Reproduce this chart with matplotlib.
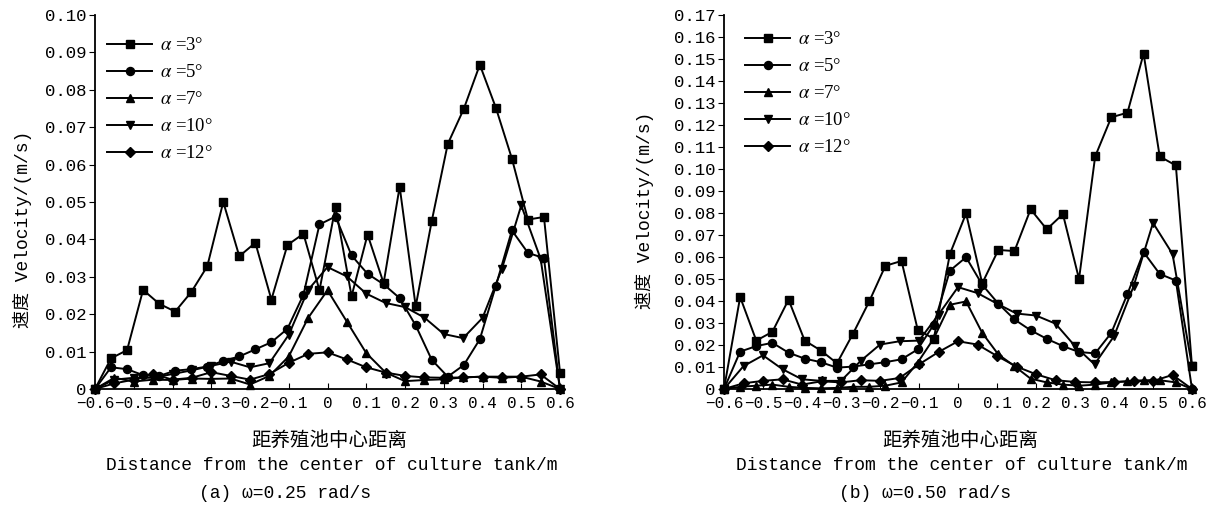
import numpy as np
import matplotlib
matplotlib.use('Agg')
import matplotlib.pyplot as plt

plt.rcParams['font.family'] = ['Liberation Mono', 'Noto Sans CJK SC']
plt.rcParams['mathtext.fontset'] = 'stix'

# sample positions (m): squares/circles use 30 points, the rest 25
x30 = [-0.6, -0.5586, -0.5172, -0.4759, -0.4345, -0.3931, -0.3517, -0.3103, -0.2690, -0.2276,
       -0.1862, -0.1448, -0.1034, -0.0621, -0.0207, 0.0207, 0.0621, 0.1034, 0.1448, 0.1862,
       0.2276, 0.2690, 0.3103, 0.3517, 0.3931, 0.4345, 0.4759, 0.5172, 0.5586, 0.6]
x25 = [-0.6, -0.55, -0.5, -0.45, -0.4, -0.35, -0.3, -0.25, -0.2, -0.15, -0.1, -0.05, 0.0,
       0.05, 0.1, 0.15, 0.2, 0.25, 0.3, 0.35, 0.4, 0.45, 0.5, 0.55, 0.6]

labels = ['3', '5', '7', '10', '12']
markers = ['s', 'o', '^', 'v', 'D']

# (a) omega = 0.25 rad/s
a3 = [0, 0.0082, 0.0104, 0.0265, 0.0228, 0.0207, 0.0259, 0.0328, 0.050, 0.0355,
      0.0391, 0.0239, 0.0385, 0.0415, 0.0264, 0.0487, 0.0248, 0.0413, 0.0283, 0.0541,
      0.0221, 0.0449, 0.0655, 0.0749, 0.0867, 0.0752, 0.0616, 0.0453, 0.0460, 0.0044]
a5 = [0, 0.0058, 0.0053, 0.0037, 0.0035, 0.0049, 0.0053, 0.0060, 0.0075, 0.0087,
      0.0106, 0.0125, 0.0161, 0.0252, 0.0440, 0.0461, 0.0357, 0.0308, 0.0280, 0.0243,
      0.0170, 0.0078, 0.0033, 0.0064, 0.0133, 0.0276, 0.0424, 0.0364, 0.0350, 0]
a7 = [0, 0.0030, 0.0020, 0.0025, 0.0024, 0.0028, 0.0027, 0.0028, 0.0012, 0.0035,
      0.0087, 0.0190, 0.0264, 0.0180, 0.0096, 0.0044, 0.0021, 0.0024, 0.0026, 0.0031,
      0.0033, 0.0030, 0.0033, 0.0020, 0]
a10 = [0, 0.0025, 0.0030, 0.0030, 0.0040, 0.0050, 0.0062, 0.0073, 0.0058, 0.0069,
       0.0145, 0.0265, 0.0326, 0.0301, 0.0255, 0.0230, 0.0219, 0.0191, 0.0147, 0.0136,
       0.0190, 0.0321, 0.0491, 0.0348, 0]
a12 = [0, 0.0015, 0.0025, 0.0040, 0.0025, 0.0030, 0.0045, 0.0035, 0.0025, 0.0040,
       0.0070, 0.0094, 0.0098, 0.0079, 0.0058, 0.0044, 0.0035, 0.0031, 0.0030, 0.0031,
       0.0033, 0.0033, 0.0033, 0.0039, 0]

# (b) omega = 0.50 rad/s
b3 = [0, 0.0418, 0.0220, 0.0260, 0.0406, 0.0220, 0.0175, 0.0117, 0.0252, 0.0398,
      0.0560, 0.0582, 0.0270, 0.0228, 0.0614, 0.0798, 0.0480, 0.0632, 0.0627, 0.0817,
      0.0726, 0.0795, 0.0500, 0.1057, 0.1235, 0.1256, 0.1524, 0.1057, 0.1016, 0.0104]
b5 = [0, 0.0170, 0.0195, 0.0210, 0.0165, 0.0138, 0.0122, 0.0097, 0.0102, 0.0112,
      0.0122, 0.0135, 0.0180, 0.0293, 0.0538, 0.0599, 0.0474, 0.0388, 0.0316, 0.0267,
      0.0228, 0.0195, 0.0168, 0.0162, 0.0255, 0.0432, 0.0622, 0.0523, 0.0493, 0]
b7 = [0, 0.0010, 0.0015, 0.0020, 0.0010, 0.0005, 0.0003, 0.0005, 0.0010, 0.0010,
      0.0015, 0.0030, 0.0120, 0.0230, 0.0383, 0.0398, 0.0255, 0.0157, 0.0104, 0.0047,
      0.0030, 0.0020, 0.0015, 0.0020, 0.0030, 0.0035, 0.0040, 0.0040, 0.0030, 0]
b10 = [0, 0.0104, 0.0153, 0.0090, 0.0044, 0.0037, 0.0037, 0.0127, 0.0202, 0.0217,
       0.0220, 0.0338, 0.0463, 0.0436, 0.0388, 0.0343, 0.0334, 0.0297, 0.0195, 0.0112,
       0.0240, 0.0466, 0.0755, 0.0614, 0.0104]
b12 = [0, 0.0026, 0.0037, 0.0044, 0.0020, 0.0035, 0.0030, 0.0040, 0.0037, 0.0050,
       0.0112, 0.0168, 0.0217, 0.0202, 0.0150, 0.0102, 0.0067, 0.0040, 0.0032, 0.0030,
       0.0032, 0.0036, 0.0036, 0.0064, 0]

xticks = [-0.6, -0.5, -0.4, -0.3, -0.2, -0.1, 0, 0.1, 0.2, 0.3, 0.4, 0.5, 0.6]
xticklabels = ['−0.6', '−0.5', '−0.4', '−0.3', '−0.2', '−0.1', '0',
               '0.1', '0.2', '0.3', '0.4', '0.5', '0.6']

W, H = 1215, 512
fig = plt.figure(figsize=(W / 100, H / 100), dpi=100)


def panel(left, right, ymax, nt, data, caption, ylab_xy, cap_x, leg_xy):
    ax = fig.add_axes([left / W, 1 - 389 / H, (right - left) / W, 374 / H])
    for ys, m, lab in zip(data, markers, labels):
        xs = x30 if len(ys) == 30 else x25
        ms = 5.8 if m != 'D' else 5.2
        ax.plot(xs, ys, color='k', lw=1.4, marker=m, ms=ms, clip_on=False,
                label='$\\alpha$ =' + lab + '°')
    ax.set_xlim(-0.6, 0.6)
    ax.set_ylim(0, ymax)
    for s in ['top', 'right']:
        ax.spines[s].set_visible(False)
    ax.spines['left'].set_linewidth(1.3)
    ax.spines['bottom'].set_linewidth(1.3)
    ax.set_xticks(xticks)
    ax.set_xticklabels(xticklabels, fontsize=11.5)
    yt = [i / 100 for i in range(nt + 1)]
    ax.set_yticks(yt)
    ax.set_yticklabels(['0' if v == 0 else '%.2f' % v for v in yt], fontsize=12.5)
    ax.tick_params(axis='x', direction='in', length=4, pad=5)
    ax.tick_params(axis='y', direction='out', length=4, pad=2)
    ax.legend(loc='upper left', bbox_to_anchor=leg_xy, frameon=False,
              prop={'family': ['Liberation Serif'], 'size': 13.5},
              handlelength=2.4, handletextpad=0.4, labelspacing=0.53,
              borderpad=0, borderaxespad=0)
    fig.text(ylab_xy[0] / W, 1 - ylab_xy[1] / H, '速度 Velocity/(m/s)', rotation=90,
             ha='center', va='center', fontsize=13)
    cx = (left + right) / 2
    fig.text((cx + 2) / W, 1 - 440 / H, '距养殖池中心距离', ha='center', va='center',
             fontsize=14, family=['Noto Sans CJK SC'])
    fig.text((cx + 4) / W, 1 - 466 / H, 'Distance from the center of culture tank/m',
             ha='center', va='center', fontsize=13)
    fig.text(cap_x / W, 1 - 493 / H, caption, ha='center', va='center', fontsize=13)
    return ax


panel(95, 560, 0.10, 10, [a3, a5, a7, a10, a12], '(a) ω=0.25 rad/s', (22, 229), 285,
      (0.026, 0.941))
panel(724, 1192, 0.17, 17, [b3, b5, b7, b10, b12], '(b) ω=0.50 rad/s', (644, 210), 925,
      (0.045, 0.957))

fig.savefig('out.png', dpi=100)
